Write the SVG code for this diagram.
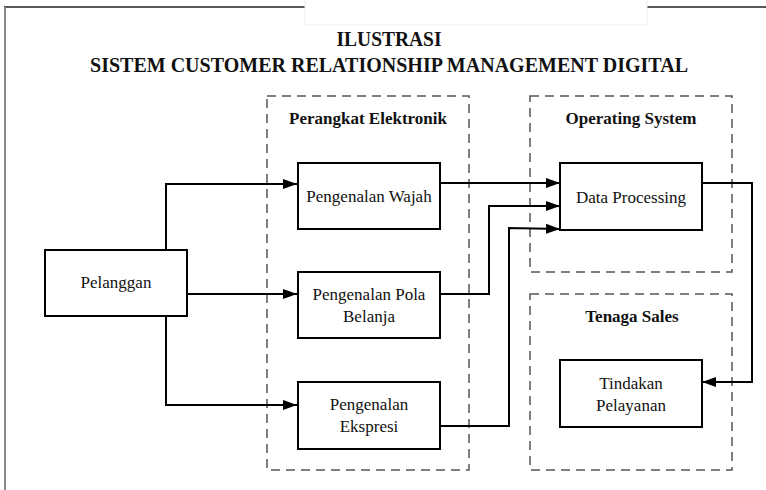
<svg xmlns="http://www.w3.org/2000/svg" width="766" height="490" viewBox="0 0 766 490">
  <defs>
    <marker id="arrow" viewBox="0 0 14 10" refX="14" refY="5" markerWidth="14" markerHeight="10" markerUnits="userSpaceOnUse" orient="auto">
      <path d="M0,0 L14,5 L0,10 Z" fill="#000"/>
    </marker>
    <style>
      .frame-top { stroke: #222; stroke-width: 1.5; }
      .frame-left { stroke: #888; stroke-width: 2; }
      .card { fill: #fff; stroke: #eee; stroke-width: 1; }
      .title { font-family: "Liberation Serif", "Times New Roman", serif; font-weight: bold; font-size: 21px; fill: #111; text-anchor: middle; }
      .lane { fill: none; stroke: #555; stroke-width: 1.5; stroke-dasharray: 9 6; }
      .lane-label { font-family: "Liberation Serif", "Times New Roman", serif; font-weight: bold; font-size: 17px; fill: #111; text-anchor: middle; }
      .box { fill: #fff; stroke: #000; stroke-width: 2; }
      .label { font-family: "Liberation Serif", "Times New Roman", serif; font-size: 17px; fill: #111; text-anchor: middle; }
      .link { fill: none; stroke: #000; stroke-width: 2; marker-end: url(#arrow); }
    </style>
  </defs>

  <rect width="766" height="490" fill="#fff"/>

  <!-- page frame -->
  <line class="frame-top" x1="4" y1="7" x2="766" y2="7"/>
  <line class="frame-left" x1="5" y1="7" x2="5" y2="490"/>
  <rect class="card" x="305" y="-2" width="342" height="27"/>

  <!-- title -->
  <text class="title" x="389" y="46" textLength="105" lengthAdjust="spacingAndGlyphs">ILUSTRASI</text>
  <text class="title" x="389" y="72" textLength="598" lengthAdjust="spacingAndGlyphs">SISTEM CUSTOMER RELATIONSHIP MANAGEMENT DIGITAL</text>

  <!-- lanes -->
  <g id="lane-perangkat">
    <rect class="lane" x="267" y="96" width="202" height="374"/>
    <text class="lane-label" x="368" y="124">Perangkat Elektronik</text>
  </g>
  <g id="lane-os">
    <rect class="lane" x="530" y="96" width="202" height="176"/>
    <text class="lane-label" x="631" y="124">Operating System</text>
  </g>
  <g id="lane-sales">
    <rect class="lane" x="530" y="294" width="202" height="176"/>
    <text class="lane-label" x="632" y="322">Tenaga Sales</text>
  </g>

  <!-- connectors -->
  <g id="connectors">
    <path class="link" d="M166,250 V184 H297"/>
    <path class="link" d="M187,294 H297"/>
    <path class="link" d="M166,316 V405 H297"/>
    <path class="link" d="M440,183 H560"/>
    <path class="link" d="M440,294 H489 V206 H560"/>
    <path class="link" d="M440,426 H509 V228 L560,229"/>
    <path class="link" d="M702,183 H752 V382 H702"/>
  </g>

  <!-- nodes -->
  <g id="pelanggan">
    <rect class="box" x="45" y="250" width="142" height="66"/>
    <text class="label" x="116" y="288">Pelanggan</text>
  </g>
  <g id="pengenalan-wajah">
    <rect class="box" x="298" y="163" width="142" height="66"/>
    <text class="label" x="369" y="202">Pengenalan Wajah</text>
  </g>
  <g id="pengenalan-pola-belanja">
    <rect class="box" x="298" y="272" width="142" height="66"/>
    <text class="label" x="369" y="300">Pengenalan Pola</text>
    <text class="label" x="369" y="322">Belanja</text>
  </g>
  <g id="pengenalan-ekspresi">
    <rect class="box" x="298" y="382" width="142" height="67"/>
    <text class="label" x="369" y="410">Pengenalan</text>
    <text class="label" x="369" y="432">Ekspresi</text>
  </g>
  <g id="data-processing">
    <rect class="box" x="560" y="163" width="142" height="67"/>
    <text class="label" x="631" y="203">Data Processing</text>
  </g>
  <g id="tindakan-pelayanan">
    <rect class="box" x="560" y="360" width="142" height="67"/>
    <text class="label" x="631" y="389">Tindakan</text>
    <text class="label" x="631" y="411">Pelayanan</text>
  </g>
</svg>
